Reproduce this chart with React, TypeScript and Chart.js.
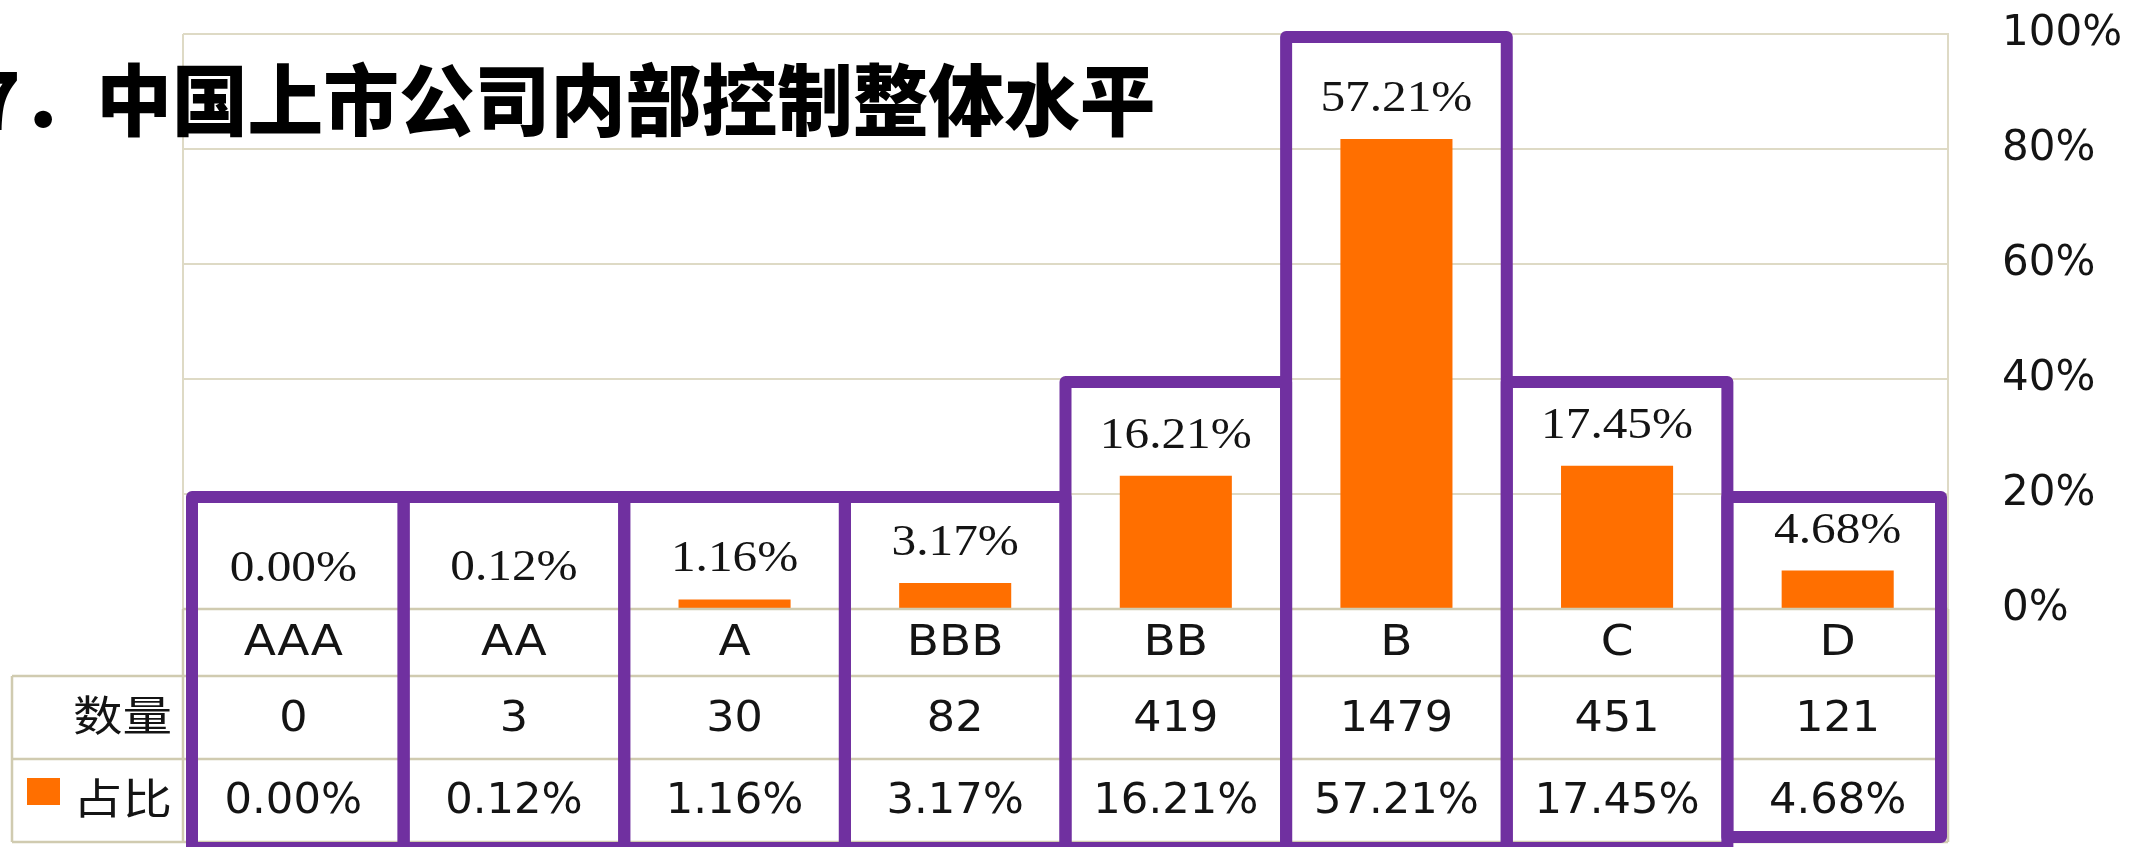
import React, { useEffect, useRef } from 'react';
import { Chart, registerables } from 'chart.js';

Chart.register(...registerables);

const titleText = '7．中国上市公司内部控制整体水平';
const categories = ['AAA', 'AA', 'A', 'BBB', 'BB', 'B', 'C', 'D'];
const counts = [0, 3, 30, 82, 419, 1479, 451, 121];
const shares = [0.0, 0.12, 1.16, 3.17, 16.21, 57.21, 17.45, 4.68];
const rowHeaders = ['数量', '占比'];
const axisTickValues = [0, 20, 40, 60, 80, 100];
const barScaleMax = 70;

const ORANGE = '#FF6F00';
const PURPLE = '#7030A0';
const GRID = '#DEDAC5';
const TABLE_LINE = '#D0CBB0';
const TEXT = '#141414';

function stretchedText(
  ctx: CanvasRenderingContext2D,
  text: string,
  x: number,
  y: number,
  sx: number,
  align: CanvasTextAlign
) {
  ctx.save();
  ctx.translate(x, y);
  ctx.scale(sx, 1);
  ctx.textAlign = align;
  ctx.fillText(text, 0, 0);
  ctx.restore();
}

const overlayPlugin = {
  id: 'tableBoxesTitle',
  afterDraw(chart: any) {
    const ctx: CanvasRenderingContext2D = chart.ctx;
    const area = chart.chartArea;
    const yAxis = chart.scales.y;
    const meta = chart.getDatasetMeta(0);
    const n = categories.length;
    const colW = (area.right - area.left) / n;
    const bounds = Array.from({ length: n + 1 }, (_, i) => area.left + i * colW);

    const catTop = area.bottom;
    const cntTop = catTop + 67;
    const pctTop = cntTop + 83;
    const tableBottom = pctTop + 83;
    const headerLeft = 12;
    const headerRight = area.left;

    ctx.save();
    // plot left border
    ctx.strokeStyle = GRID;
    ctx.lineWidth = 2;
    ctx.beginPath();
    ctx.moveTo(area.left, area.top);
    ctx.lineTo(area.left, area.bottom);
    ctx.stroke();

    // table lines
    ctx.strokeStyle = TABLE_LINE;
    ctx.lineWidth = 2.5;
    ctx.beginPath();
    ctx.moveTo(area.left, catTop);
    ctx.lineTo(area.right, catTop);
    [cntTop, pctTop, tableBottom].forEach((yy) => {
      ctx.moveTo(headerLeft, yy);
      ctx.lineTo(area.right, yy);
    });
    bounds.forEach((bx) => {
      ctx.moveTo(bx, catTop);
      ctx.lineTo(bx, tableBottom);
    });
    ctx.moveTo(headerLeft, cntTop);
    ctx.lineTo(headerLeft, tableBottom);
    ctx.stroke();

    // table texts
    ctx.fillStyle = TEXT;
    ctx.textBaseline = 'alphabetic';
    ctx.font = '42px "DejaVu Sans"';
    categories.forEach((c, i) => {
      const cx = bounds[i] + colW / 2;
      stretchedText(ctx, c, cx, catTop + 46, 1.12, 'center');
      stretchedText(ctx, String(counts[i]), cx, cntTop + 55, 1.06, 'center');
      stretchedText(ctx, shares[i].toFixed(2) + '%', cx, pctTop + 54, 1.03, 'center');
    });

    // row headers
    ctx.font = '42px "Noto Sans CJK SC"';
    ctx.textBaseline = 'middle';
    stretchedText(ctx, rowHeaders[0], headerRight - 11, cntTop + 39, 1.18, 'right');
    stretchedText(ctx, rowHeaders[1], headerRight - 11, pctTop + 39, 1.18, 'right');
    ctx.fillStyle = ORANGE;
    ctx.fillRect(27, pctTop + 19, 33, 27);

    // bar value labels
    ctx.fillStyle = TEXT;
    ctx.textBaseline = 'alphabetic';
    ctx.font = '44px "Liberation Serif"';
    const labelTops: number[] = [];
    meta.data.forEach((bar: any, i: number) => {
      const base = bar.y - 28;
      stretchedText(ctx, shares[i].toFixed(2) + '%', bar.x, base, 1.12, 'center');
      labelTops.push(base - 30);
    });

    // highlight boxes: top sits on the nearest gridline above the label
    const gridYs = axisTickValues.map((v) => yAxis.getPixelForValue(v));
    ctx.strokeStyle = PURPLE;
    ctx.lineWidth = 12;
    ctx.lineJoin = 'round';
    categories.forEach((_, i) => {
      const candidates = gridYs.filter((gy) => gy <= labelTops[i]);
      const topGrid = candidates.length ? Math.max(...candidates) : area.top;
      const left = i === 0 ? bounds[i] + 9 : bounds[i];
      const right = i === n - 1 ? bounds[i + 1] - 7 : bounds[i + 1];
      const top = topGrid + 3;
      const bottom = i === n - 1 ? tableBottom - 5 : tableBottom + 6;
      ctx.beginPath();
      ctx.moveTo(left, bottom);
      ctx.lineTo(left, top);
      ctx.lineTo(right, top);
      ctx.lineTo(right, bottom);
      ctx.closePath();
      ctx.stroke();
    });

    // title
    ctx.fillStyle = '#000000';
    ctx.font = '900 78px "Noto Sans CJK SC"';
    ctx.textBaseline = 'middle';
    ctx.textAlign = 'left';
    const prefix = titleText.slice(0, 2);
    const x0 = 100 - ctx.measureText(prefix).width;
    ctx.save();
    ctx.translate(x0, 100);
    ctx.scale(0.97, 1);
    ctx.fillText(titleText, 0, 0);
    ctx.restore();
    ctx.restore();
  },
};

export default function App() {
  const canvasRef = useRef<HTMLCanvasElement | null>(null);

  useEffect(() => {
    if (!canvasRef.current) return;
    const chart = new Chart(canvasRef.current, {
      type: 'bar',
      data: {
        labels: categories,
        datasets: [
          {
            label: '占比',
            data: shares,
            backgroundColor: ORANGE,
            yAxisID: 'yBar',
            barPercentage: 0.508,
            categoryPercentage: 1,
          },
        ],
      },
      options: {
        animation: false,
        responsive: true,
        maintainAspectRatio: false,
        layout: { padding: { left: 183, top: 34, right: 0, bottom: 238 } },
        plugins: {
          legend: { display: false },
          tooltip: { enabled: false },
          title: { display: false },
        },
        scales: {
          x: { display: false, offset: true },
          yBar: { display: false, min: 0, max: barScaleMax },
          y: {
            position: 'right',
            min: axisTickValues[0],
            max: axisTickValues[axisTickValues.length - 1],
            afterBuildTicks: (scale: any) => {
              scale.ticks = axisTickValues.map((v) => ({ value: v }));
            },
            afterFit: (scale: any) => {
              scale.width = 185;
            },
            grid: {
              color: GRID,
              lineWidth: 2,
              drawTicks: true,
              tickLength: 54,
              tickColor: 'rgba(0,0,0,0)',
            },
            border: { display: true, color: GRID, width: 2 },
            ticks: {
              padding: 0,
              color: TEXT,
              font: { family: '"DejaVu Sans"', size: 42 },
              callback: (v: any) => v + '%',
            },
          },
        },
      },
      plugins: [overlayPlugin],
    });
    return () => chart.destroy();
  }, []);

  return (
    <div style={{ position: 'absolute', left: 0, top: 0, width: 2133, height: 847, background: '#ffffff' }}>
      <canvas ref={canvasRef} />
    </div>
  );
}
